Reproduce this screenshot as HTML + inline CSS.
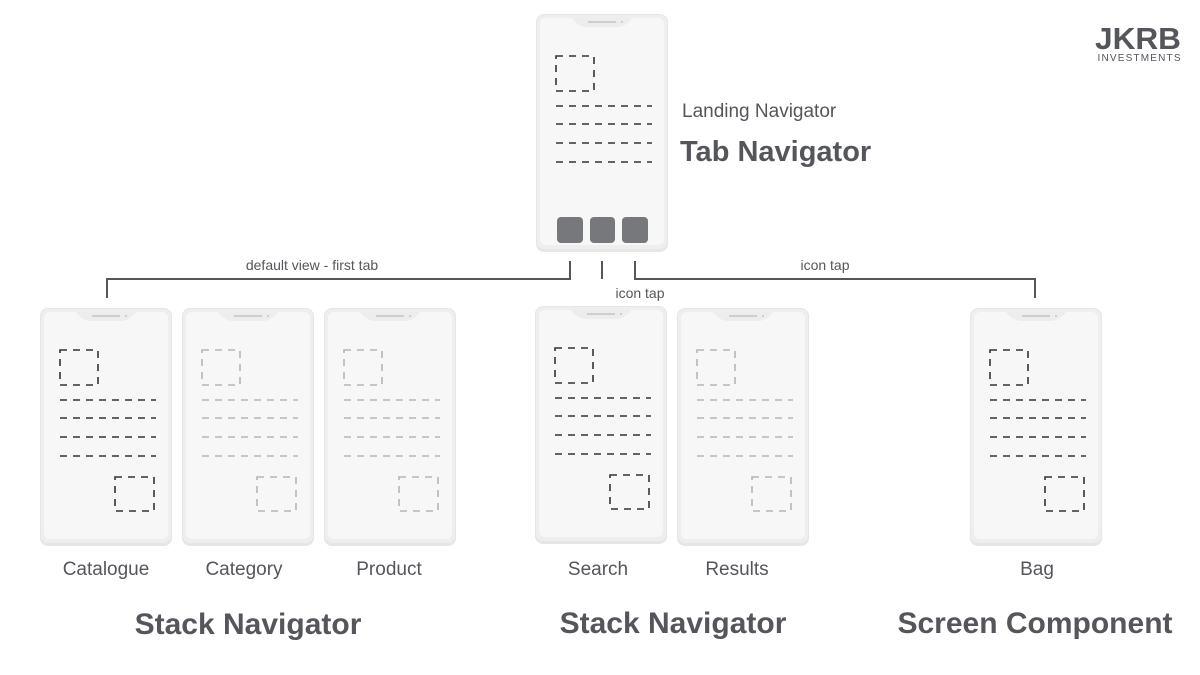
<!DOCTYPE html>
<html><head><meta charset="utf-8"><style>
html,body{margin:0;padding:0;background:#fff;}
svg{display:block;}
text{font-family:"Liberation Sans",sans-serif;fill:#55565b;}
</style></head><body>
<svg width="1200" height="675" viewBox="0 0 1200 675" xmlns="http://www.w3.org/2000/svg">
<defs>
<g id="frame">
<rect x="0" y="0" width="132" height="238" rx="8" fill="#e6e6e6"/>
<rect x="1" y="1" width="130" height="234" rx="7" fill="#eeeeee"/>
<rect x="4" y="4" width="124" height="227" rx="6" fill="#f7f7f7"/>
<path d="M36,4 Q42,13 52,13 L80,13 Q90,13 96,4 Z" fill="#ededed"/>
<line x1="52" y1="8" x2="80" y2="8" stroke="#c4c4c4" stroke-width="1.5"/>
<circle cx="86" cy="8" r="1" fill="#c4c4c4"/>
</g>
<g id="content" fill="none" stroke-width="1.6" stroke-dasharray="7 6">
<rect x="20" y="42" width="38" height="35"/>
<line x1="20" y1="92" x2="116" y2="92"/>
<line x1="20" y1="110" x2="116" y2="110"/>
<line x1="20" y1="129" x2="116" y2="129"/>
<line x1="20" y1="148" x2="116" y2="148"/>
</g>
<g id="box2" fill="none" stroke-width="1.6" stroke-dasharray="7 6">
<rect x="75" y="169" width="39" height="34"/>
</g>
</defs>

<g transform="translate(536,14)">
<use href="#frame"/>
<use href="#content" stroke="#333"/>
<rect x="21" y="203" width="26" height="26" rx="4" fill="#77787c"/>
<rect x="54" y="203" width="25" height="26" rx="4" fill="#77787c"/>
<rect x="86" y="203" width="26" height="26" rx="4" fill="#77787c"/>
</g>

<g transform="translate(40,308)"><use href="#frame"/><use href="#content" stroke="#333"/><use href="#box2" stroke="#333"/></g>
<g transform="translate(182,308)"><use href="#frame"/><use href="#content" stroke="#b5b5b5"/><use href="#box2" stroke="#b5b5b5"/></g>
<g transform="translate(324,308)"><use href="#frame"/><use href="#content" stroke="#b5b5b5"/><use href="#box2" stroke="#b5b5b5"/></g>
<g transform="translate(535,306)"><use href="#frame"/><use href="#content" stroke="#333"/><use href="#box2" stroke="#333"/></g>
<g transform="translate(677,308)"><use href="#frame"/><use href="#content" stroke="#b5b5b5"/><use href="#box2" stroke="#b5b5b5"/></g>
<g transform="translate(970,308)"><use href="#frame"/><use href="#content" stroke="#333"/><use href="#box2" stroke="#333"/></g>

<g stroke="#55565b" stroke-width="2" fill="none">
<polyline points="107,298 107,279 570,279 570,261"/>
<line x1="602" y1="261" x2="602" y2="279"/>
<polyline points="635,261 635,279 1035,279 1035,298"/>
</g>

<text x="312" y="270" font-size="14" text-anchor="middle">default  view - first tab</text>
<text x="640" y="298" font-size="14" text-anchor="middle">icon tap</text>
<text x="825" y="270" font-size="14" text-anchor="middle">icon tap</text>

<text x="682" y="117" font-size="19">Landing Navigator</text>
<text x="680" y="161" font-size="29" font-weight="bold" fill="#4f5055">Tab Navigator</text>

<text x="106" y="575" font-size="19" text-anchor="middle">Catalogue</text>
<text x="244" y="575" font-size="19" text-anchor="middle">Category</text>
<text x="389" y="575" font-size="19" text-anchor="middle">Product</text>
<text x="598" y="575" font-size="19" text-anchor="middle">Search</text>
<text x="737" y="575" font-size="19" text-anchor="middle">Results</text>
<text x="1037" y="575" font-size="19" text-anchor="middle">Bag</text>

<text x="248" y="634" font-size="30" font-weight="bold" text-anchor="middle" fill="#4f5055">Stack Navigator</text>
<text x="673" y="633" font-size="30" font-weight="bold" text-anchor="middle" fill="#4f5055">Stack Navigator</text>
<text x="1035" y="633" font-size="30" font-weight="bold" text-anchor="middle" fill="#4f5055">Screen Component</text>

<text x="1138" y="49" font-size="31" font-weight="bold" text-anchor="middle" fill="#2e2e2e" textLength="86" lengthAdjust="spacingAndGlyphs">JKRB</text>
<text x="1139" y="61" font-size="10" text-anchor="middle" fill="#444" textLength="83" lengthAdjust="spacing">INVESTMENTS</text>
</svg>
</body></html>
